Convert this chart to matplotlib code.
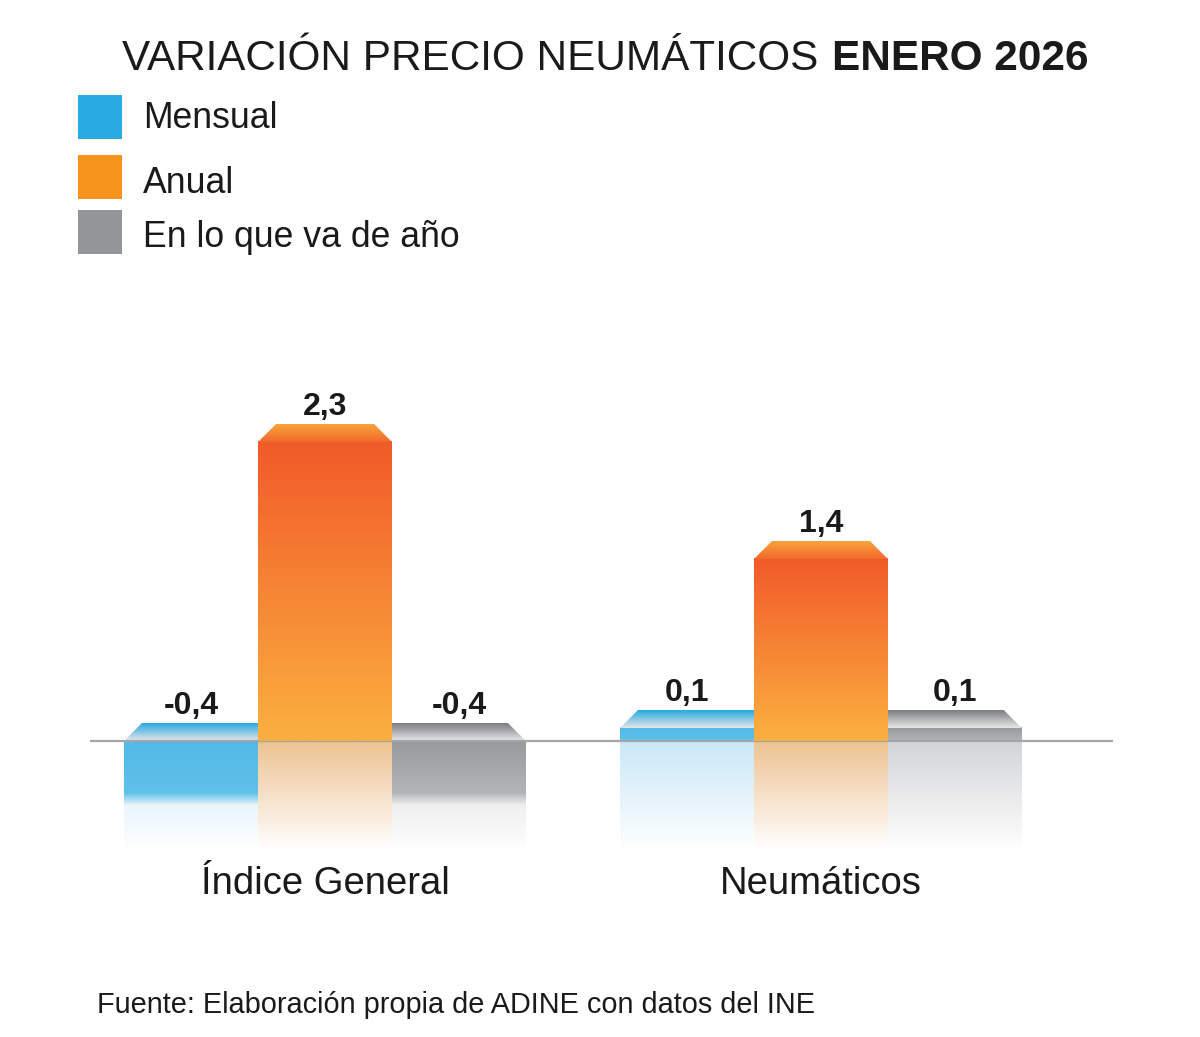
import numpy as np
import matplotlib.pyplot as plt
from matplotlib.patches import Polygon, Rectangle
from matplotlib.colors import to_rgba

plt.rcParams['font.family'] = ['Liberation Sans', 'DejaVu Sans']

# Datos
categories = ["Índice General", "Neumáticos"]
series = ["Mensual", "Anual", "En lo que va de año"]
mensual = [-0.4, 0.1]
anual = [2.3, 1.4]
en_lo_que_va = [-0.4, 0.1]
series_values = [mensual, anual, en_lo_que_va]

title_light = "VARIACIÓN PRECIO NEUMÁTICOS"
title_bold = "ENERO 2026"
source = "Fuente: Elaboración propia de ADINE con datos del INE"

# Colores
legend_colors = ["#29abe2", "#f7941d", "#939598"]
styles = {
    "Mensual": dict(face=("#52b9e7", "#60c1ea"), cap=("#27a8e0", "#e6e7e8"),
                    refl="#c9e7f6", fade="#e9f5fc"),
    "Anual": dict(face=("#f15a29", "#fbb040"), cap=("#f9a33c", "#f26a2c"),
                  refl="#edc291", fade="#fdf3e6"),
    "En lo que va de año": dict(face=("#98999b", "#b3b4b6"), cap=("#7c7d80", "#e8e8e9"),
                               refl="#d3d4d6", fade="#efeff0"),
}

W, H = 1200, 1037
fig = plt.figure(figsize=(W / 100, H / 100), dpi=100)
fig.patch.set_facecolor("white")

# Ejes de barras (pixeles desde arriba)
ax_l, ax_r, ax_t, ax_b = 90, 1113, 320, 858
ax = fig.add_axes([ax_l / W, 1 - ax_b / H, (ax_r - ax_l) / W, (ax_b - ax_t) / H])
xmin, xmax = -0.474, 1.589
ymin, ymax = -0.9, 3.238
sx = (xmax - xmin) / (ax_r - ax_l)
sy = (ymax - ymin) / (ax_b - ax_t)

width = 0.270
cap_h = 18 * sy
inset = 18 * sx
refl_bottom = -0.84
fade_h = 12 * sy


def vgrad(x0, x1, y0, y1, c_top, c_bot, z, clip=None):
    t = np.linspace(0, 1, 200)[:, None, None]
    a = np.array(to_rgba(c_top))
    b = np.array(to_rgba(c_bot))
    img = np.repeat((1 - t) * a + t * b, 2, axis=1)
    im = ax.imshow(img, extent=(x0, x1, min(y0, y1), max(y0, y1)), origin="upper",
                   aspect="auto", interpolation="bilinear", zorder=z)
    if clip is not None:
        poly = Polygon(clip, closed=True, transform=ax.transData,
                       facecolor="none", edgecolor="none")
        im.set_clip_path(poly)
    return im


def draw_bar(xc, v, name, side, z):
    st = styles[name]
    x0, x1 = xc - width / 2, xc + width / 2
    top = max(v, 0)
    # cara frontal
    if v > 0:
        vgrad(x0, x1, top, 0, st["face"][0], st["face"][1], z)
        vgrad(x0, x1, 0, refl_bottom, st["refl"], "#ffffff", 1)
    else:
        vgrad(x0, x1, 0, v, st["face"][0], st["face"][1], z)
        vgrad(x0, x1, v, v - fade_h, st["face"][1], st["fade"], z)
        vgrad(x0, x1, v - fade_h, refl_bottom, st["fade"], "#ffffff", 1)
    # tapa superior
    li = inset if side in ("left", "mid") else 0
    ri = inset if side in ("right", "mid") else 0
    pts = [(x0, top), (x1, top), (x1 - ri, top + cap_h), (x0 + li, top + cap_h)]
    vgrad(x0, x1, top + cap_h, top, st["cap"][0], st["cap"][1], z, clip=pts)
    # etiqueta
    ax.annotate(f"{v:.1f}".replace(".", ","), xy=(xc, top), xytext=(0, 27),
                textcoords="offset pixels", ha="center", va="baseline",
                fontsize=23, fontweight="bold", color="#1a1a1a", zorder=6)


offsets = [-width, 0, width]
sides = ["left", "mid", "right"]
zs = [2, 4, 2]
for i, cat in enumerate(categories):
    for name, vals, off, side, z in zip(series, series_values, offsets, sides, zs):
        draw_bar(i + off, vals[i], name, side, z)

ax.axhline(0, color="#a3a5a8", lw=1.6, zorder=3)

ax.set_xlim(xmin, xmax)
ax.set_ylim(ymin, ymax)
ax.set_xticks(range(len(categories)))
ax.set_xticklabels(categories, fontsize=27.5, color="#1a1a1a")
ax.tick_params(axis="x", length=0, pad=6)
ax.set_yticks([])
for s in ax.spines.values():
    s.set_visible(False)
ax.patch.set_alpha(0)

# Capa de textos en pixeles
ov = fig.add_axes([0, 0, 1, 1])
ov.set_xlim(0, W)
ov.set_ylim(H, 0)
ov.axis("off")
ov.patch.set_alpha(0)

ov.text(818, 70, title_light, fontsize=30.4, ha="right", va="baseline", color="#1a1a1a")
ov.text(832, 70, title_bold, fontsize=30.4, fontweight="bold", ha="left", va="baseline",
        color="#1a1a1a")

legend_y = [95, 155, 210]
legend_base = [128, 193, 247]
for name, col, y0, yb in zip(series, legend_colors, legend_y, legend_base):
    ov.add_patch(Rectangle((78, y0), 44, 44, facecolor=col, edgecolor="none"))
    ov.text(143, yb, name, fontsize=25.7, ha="left", va="baseline", color="#1a1a1a")

ov.text(97, 1013, source, fontsize=20.8, ha="left", va="baseline", color="#1a1a1a")

fig.savefig("out.png", dpi=100, facecolor="white")
